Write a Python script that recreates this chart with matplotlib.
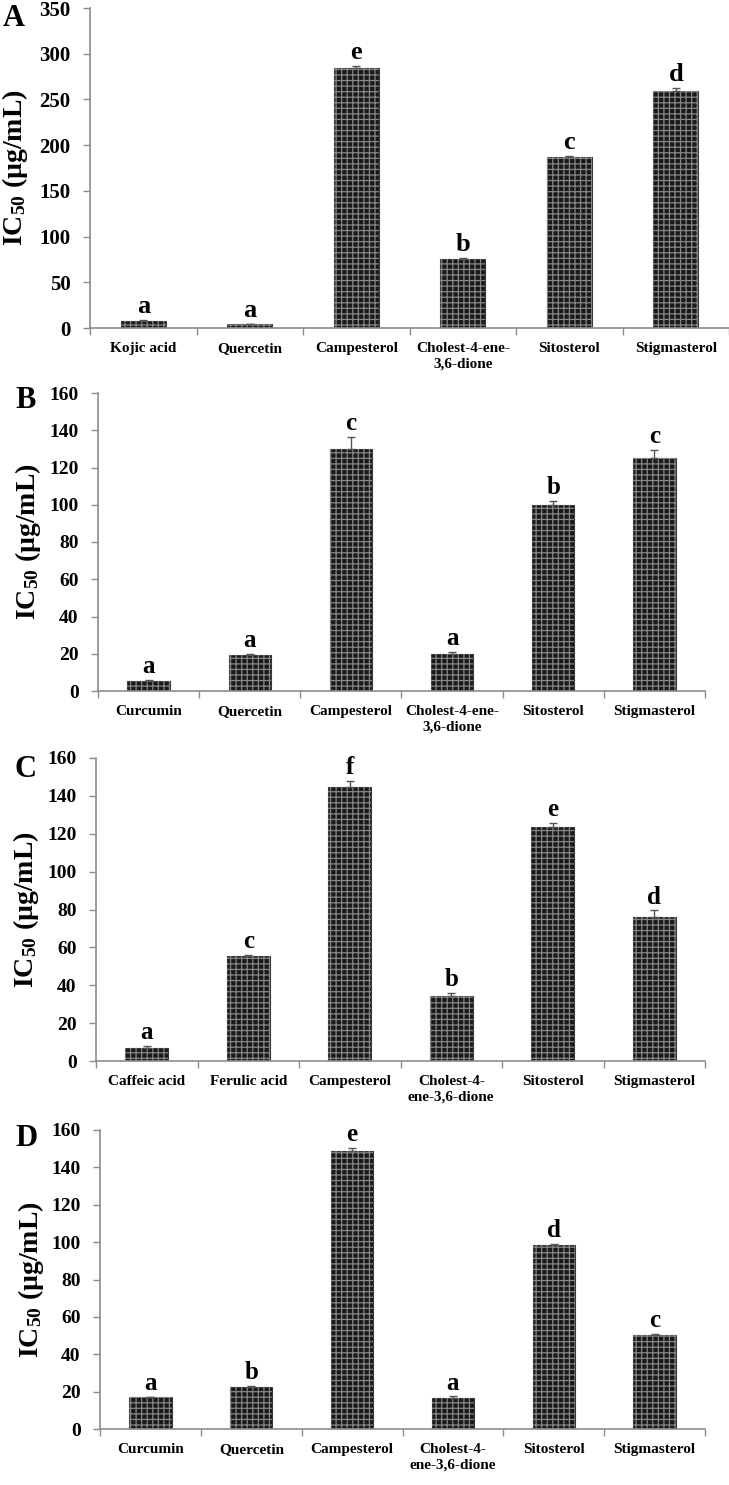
import numpy as np
import matplotlib
matplotlib.use("Agg")
import matplotlib.pyplot as plt

plt.rcParams['font.family'] = ['Liberation Serif', 'DejaVu Serif']
plt.rcParams['font.weight'] = 'bold'
plt.rcParams['mathtext.fontset'] = 'custom'
plt.rcParams['mathtext.rm'] = 'Liberation Serif:bold'
plt.rcParams['mathtext.bf'] = 'Liberation Serif:bold'
plt.rcParams['mathtext.default'] = 'bf'
plt.rcParams['hatch.linewidth'] = 0.9

# ---- data ----
labels_a = ["Kojic acid", "Quercetin", "Campesterol", "Cholest-4-ene-\n3,6-dione", "Sitosterol", "Stigmasterol"]
values_a = [8, 4, 284, 76, 187, 259]
errors_a = [1, 0.5, 3, 1, 1.5, 4]
letters_a = ["a", "a", "e", "b", "c", "d"]

labels_b = ["Curcumin", "Quercetin", "Campesterol", "Cholest-4-ene-\n3,6-dione", "Sitosterol", "Stigmasterol"]
values_b = [5.4, 19.3, 130, 20, 100, 125]
errors_b = [0.3, 0.4, 6.5, 0.8, 2, 4.5]
letters_b = ["a", "a", "c", "a", "b", "c"]

labels_c = ["Caffeic acid", "Ferulic acid", "Campesterol", "Cholest-4-\nene-3,6-dione", "Sitosterol", "Stigmasterol"]
values_c = [6.9, 55.4, 144.5, 34.3, 123.5, 76]
errors_c = [1, 0.8, 3.2, 1.5, 2, 3.5]
letters_c = ["a", "c", "f", "b", "e", "d"]

labels_d = ["Curcumin", "Quercetin", "Campesterol", "Cholest-4-\nene-3,6-dione", "Sitosterol", "Stigmasterol"]
values_d = [17, 22.6, 149, 16.6, 98.3, 50.3]
errors_d = [0.3, 0.5, 1.5, 0.8, 0.6, 0.5]
letters_d = ["a", "b", "e", "a", "d", "c"]

W, H = 729, 1485
# panel boxes in pixels: left, right, top, bottom
panels = [
    dict(tag="A", labels=labels_a, values=values_a, errors=errors_a, letters=letters_a,
         box=(90, 729, 8, 328), ymax=350, step=50, tick_fs=15, letter_fs=19,
         tag_xy=(14, 18), ylab_x=15),
    dict(tag="B", labels=labels_b, values=values_b, errors=errors_b, letters=letters_b,
         box=(98, 705, 393, 691), ymax=160, step=20, tick_fs=14, letter_fs=18,
         tag_xy=(26, 400), ylab_x=28),
    dict(tag="C", labels=labels_c, values=values_c, errors=errors_c, letters=letters_c,
         box=(96, 705, 758, 1061), ymax=160, step=20, tick_fs=14, letter_fs=18,
         tag_xy=(25, 769), ylab_x=26),
    dict(tag="D", labels=labels_d, values=values_d, errors=errors_d, letters=letters_d,
         box=(100, 705, 1130, 1429), ymax=160, step=20, tick_fs=14, letter_fs=18,
         tag_xy=(27, 1138), ylab_x=31),
]

fig = plt.figure(figsize=(W / 100, H / 100), dpi=100)
axis_gray = "#8c8c8c"

for p in panels:
    l, r, t, b = p["box"]
    ax = fig.add_axes([l / W, 1 - b / H, (r - l) / W, (b - t) / H])
    x = np.arange(len(p["values"]))

    ax.bar(x, p["values"], width=0.42, color="#1a1a1a", edgecolor="#3a3a3a", linewidth=0.8, zorder=2)
    ax.bar(x, p["values"], width=0.42, fill=False, hatch="+++", edgecolor="#858585", linewidth=0, zorder=3)
    ax.errorbar(x, p["values"], yerr=[np.zeros(len(x)), p["errors"]], fmt="none",
                ecolor="#555555", elinewidth=1.0, capsize=3, capthick=1.0, zorder=4)

    for xi, v, e, letter in zip(x, p["values"], p["errors"], p["letters"]):
        ax.annotate(letter, (xi, v + e), xytext=(0, 5), textcoords="offset points",
                    ha="center", va="baseline", fontsize=p["letter_fs"], fontweight="bold",
                    annotation_clip=False)

    ax.set_xlim(-0.5, len(x) - 0.5)
    ax.set_ylim(0, p["ymax"])
    ax.set_yticks(np.arange(0, p["ymax"] + 1, p["step"]))
    ax.tick_params(axis="y", length=5, width=1, color=axis_gray, pad=9, labelsize=p["tick_fs"])

    # boundary ticks on x, category names as minor ticks
    ax.set_xticks(np.arange(-0.5, len(x)), labels=[])
    ax.set_xticks(x, labels=p["labels"], minor=True)
    ax.tick_params(axis="x", which="major", length=5, width=1, color=axis_gray)
    ax.tick_params(axis="x", which="minor", length=0, pad=10, labelsize=11)
    for lab in ax.get_xticklabels(minor=True):
        lab.set_linespacing(1.25)

    for side in ("top", "right"):
        ax.spines[side].set_visible(False)
    for side in ("left", "bottom"):
        ax.spines[side].set_color(axis_gray)
        ax.spines[side].set_linewidth(1.2)

    fig.text(p["ylab_x"] / W, 1 - ((t + b) / 2) / H, r"IC$_{50}$ (µg/mL)",
             rotation=90, ha="center", va="center", fontsize=20, fontweight="bold")
    fig.text(p["tag_xy"][0] / W, 1 - p["tag_xy"][1] / H, p["tag"],
             ha="center", va="center", fontsize=22, fontweight="bold")

fig.savefig("out.png", dpi=100)
